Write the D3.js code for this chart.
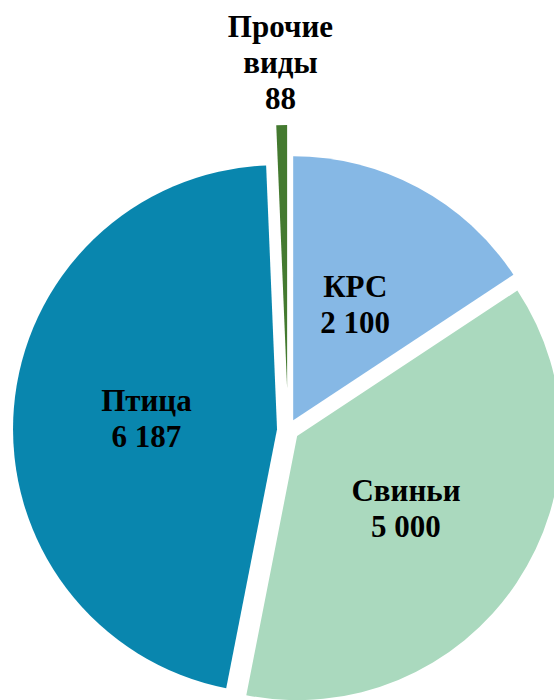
<!DOCTYPE html>
<html>
<head>
<meta charset="utf-8">
<script src="https://cdn.jsdelivr.net/npm/d3@7"></script>
<style>
  body { margin: 0; background: #fff; }
  svg { display: block; }
  .lbl { font-family: "Liberation Serif", "Times New Roman", serif; font-weight: bold; font-size: 31px; fill: #000; }
</style>
</head>
<body>
<div id="chart"></div>
<script>
// data
var categories = ["КРС", "Свиньи", "Птица", "Прочие виды"];
var values = [2100, 5000, 6187, 88];
var valueLabels = ["2 100", "5 000", "6 187", "88"];
var labelLines = [["КРС"], ["Свиньи"], ["Птица"], ["Прочие", "виды"]];
var colors = ["#86b8e5", "#aad9be", "#0986ae", "#447a30"];
var explode = [11, 11, 11, 41];

var width = 554,
	height = 700,
	cx = 288,
	cy = 430,
	radius = 264,
	lineH = 36;

var svg = d3.select("#chart")
	.append("svg")
	.attr("width", width)
	.attr("height", height);

var pie = d3.pie()
	.sort(null)
	.value(function(d) { return d; });

var arc = d3.arc()
	.innerRadius(0)
	.outerRadius(radius);

var slices = pie(values);

function mid(d) { return (d.startAngle + d.endAngle) / 2; }

var g = svg.append("g")
	.attr("transform", "translate(" + cx + "," + cy + ")");

g.selectAll("path")
	.data(slices)
	.enter()
	.append("path")
	.attr("d", arc)
	.attr("fill", function(d, i) { return colors[i]; })
	.attr("transform", function(d, i) {
		var a = mid(d);
		return "translate(" + (explode[i] * Math.sin(a)) + "," + (-explode[i] * Math.cos(a)) + ")";
	});

// labels: inside for big slices, outside for the small one
var labels = g.selectAll("text")
	.data(slices)
	.enter()
	.append("text")
	.attr("class", "lbl")
	.attr("text-anchor", "middle");

labels.each(function(d, i) {
	var a = mid(d);
	var r = explode[i] + (values[i] / d3.sum(values) < 0.05 ? radius + 62 : 131);
	var x = r * Math.sin(a),
		y = -r * Math.cos(a);
	var lines = labelLines[i].concat([valueLabels[i]]);
	var y0 = y - (lines.length - 1) * lineH / 2 + 10;
	var t = d3.select(this);
	lines.forEach(function(s, k) {
		t.append("tspan")
			.attr("x", x)
			.attr("y", y0 + k * lineH)
			.text(s);
	});
});
</script>
</body>
</html>
